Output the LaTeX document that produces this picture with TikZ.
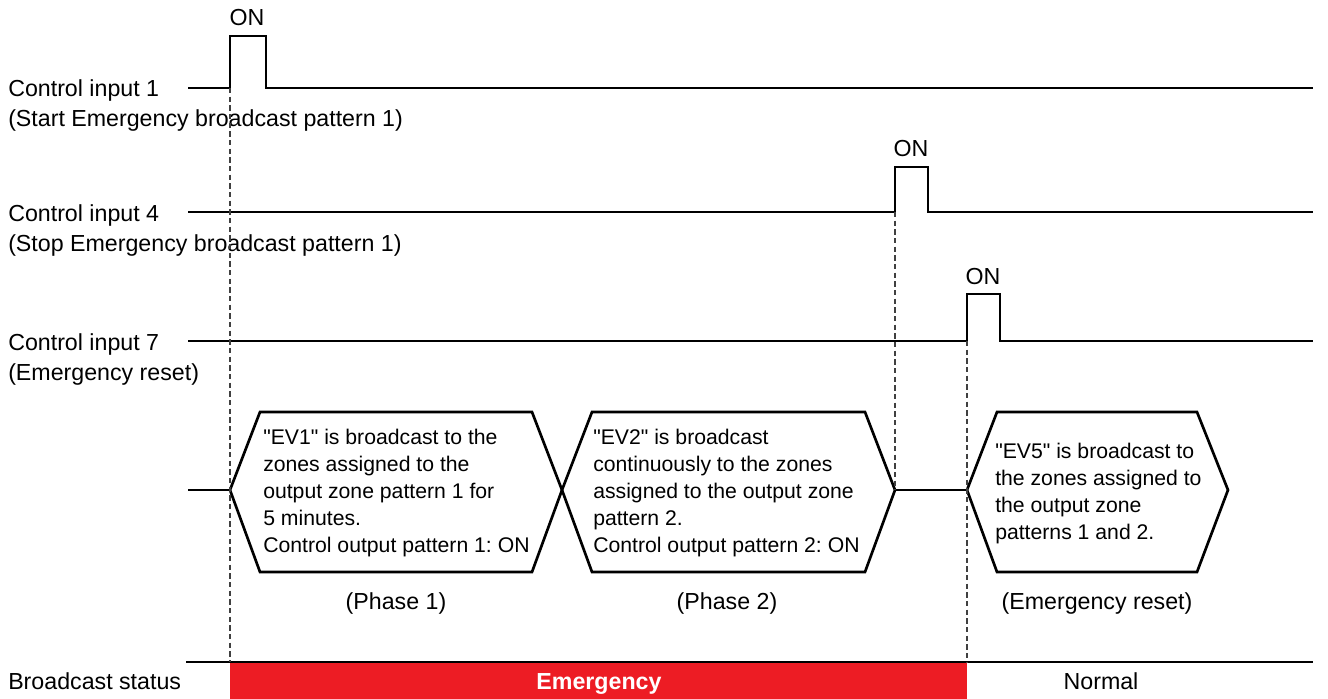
\documentclass[tikz,border=0pt]{standalone}
\usepackage{fontspec}
\setmainfont{Liberation Sans}
\usetikzlibrary{calc}
\definecolor{alarmred}{RGB}{237,28,36}

\begin{document}
\frenchspacing
\begin{tikzpicture}[
        x=0.75pt, y=-0.75pt,
        lbl/.style={anchor=base west, inner sep=0pt, font=\fontsize{17.4}{20}\selectfont},
        ontag/.style={inner sep=0pt, font=\fontsize{17.4}{20}\selectfont},
        sig/.style={draw, line width=2pt, line join=miter},
        guide/.style={draw, line width=0.8pt, dash pattern=on 4pt off 2.5pt, black!75},
        hexbox/.style={draw, line width=2pt, line join=miter},
        hextext/.style={anchor=west, align=left, inner sep=0pt, font=\fontsize{15.9}{20.25}\selectfont},
        phase/.style={inner sep=0pt, font=\fontsize{17.4}{20}\selectfont}
    ]
        \useasboundingbox (0,0) rectangle (1328,699);

        % signal rows
        \node [lbl] (in1) at (8,97) {Control input 1};
        \node [lbl] (in1d) at (8,127) {(Start Emergency broadcast pattern 1)};
        \node [lbl] (in4) at (8,221) {Control input 4};
        \node [lbl] (in4d) at (8,251) {(Stop Emergency broadcast pattern 1)};
        \node [lbl] (in7) at (8,350) {Control input 7};
        \node [lbl] (in7d) at (8,380) {(Emergency reset)};

        \coordinate (s1a) at (188,88);  \coordinate (s1b) at (1313,88);
        \coordinate (s4a) at (188,212); \coordinate (s4b) at (1313,212);
        \coordinate (s7a) at (188,341); \coordinate (s7b) at (1313,341);
        \coordinate (p1) at (230,88);
        \coordinate (p4) at (895,212);
        \coordinate (p7) at (967,341);

        \path [sig] (s1a) -- (p1) -- ++(0,-52) -- ++(36,0) -- ++(0,52) -- (s1b);
        \path [sig] (s4a) -- (p4) -- ++(0,-45) -- ++(33,0) -- ++(0,45) -- (s4b);
        \path [sig] (s7a) -- (p7) -- ++(0,-47) -- ++(33,0) -- ++(0,47) -- (s7b);

        \node [ontag] (on1) at (247,18) {ON};
        \node [ontag] (on4) at (911,149) {ON};
        \node [ontag] (on7) at (983,277) {ON};

        % broadcast phases
        \coordinate (lead) at (188,490);
        \coordinate (h1w) at (230,490); \coordinate (h1e) at (562,490);
        \coordinate (h2w) at (562,490); \coordinate (h2e) at (895,490);
        \coordinate (h3w) at (967,490); \coordinate (h3e) at (1228,490);

        \path [hexbox] (h1w) -- (260,412) -- (532,412) -- (h1e) -- (532,572) -- (260,572) -- cycle;
        \path [hexbox] (h2w) -- (592,412) -- (865,412) -- (h2e) -- (865,572) -- (592,572) -- cycle;
        \path [hexbox] (h3w) -- (997,412) -- (1197,412) -- (h3e) -- (1197,572) -- (997,572) -- cycle;
        \path [sig] (lead) -- (h1w);
        \path [sig] (h2e) -- (h3w);

        \node [hextext] (ev1) at (263,493) {\textquotedbl EV1\textquotedbl{} is broadcast to the\\zones assigned to the\\output zone pattern 1 for\\5 minutes.\\Control output pattern 1: ON};
        \node [hextext] (ev2) at (593,493) {\textquotedbl EV2\textquotedbl{} is broadcast\\continuously to the zones\\assigned to the output zone\\pattern 2.\\Control output pattern 2: ON};
        \node [hextext] (ev5) at (995,494) {\textquotedbl EV5\textquotedbl{} is broadcast to\\the zones assigned to\\the output zone\\patterns 1 and 2.};

        \node [phase] (ph1) at (396,603) {(Phase 1)};
        \node [phase] (ph2) at (727,603) {(Phase 2)};
        \node [phase] (ph3) at (1097,603) {(Emergency reset)};

        % status bar
        \coordinate (st0) at (186,662); \coordinate (st3) at (1313,662);
        \coordinate (st1) at (230,662); \coordinate (st2) at (967,662);
        \fill [alarmred] (st1) rectangle (967,699);
        \draw [line width=1pt] (st0) -- (st3);
        \node [lbl] (bs) at (8,689) {Broadcast status};
        \node [ontag, anchor=base, text=white, font=\fontsize{17.4}{20}\selectfont\bfseries] (emg) at (599,689) {Emergency};
        \node [ontag, anchor=base] (nrm) at (1101,689) {Normal};

        % timing guides
        \path [guide] (p1) -- (st1);
        \path [guide] (p4) -- (h2e);
        \path [guide] (p7) -- (st2);
\end{tikzpicture}
\end{document}
